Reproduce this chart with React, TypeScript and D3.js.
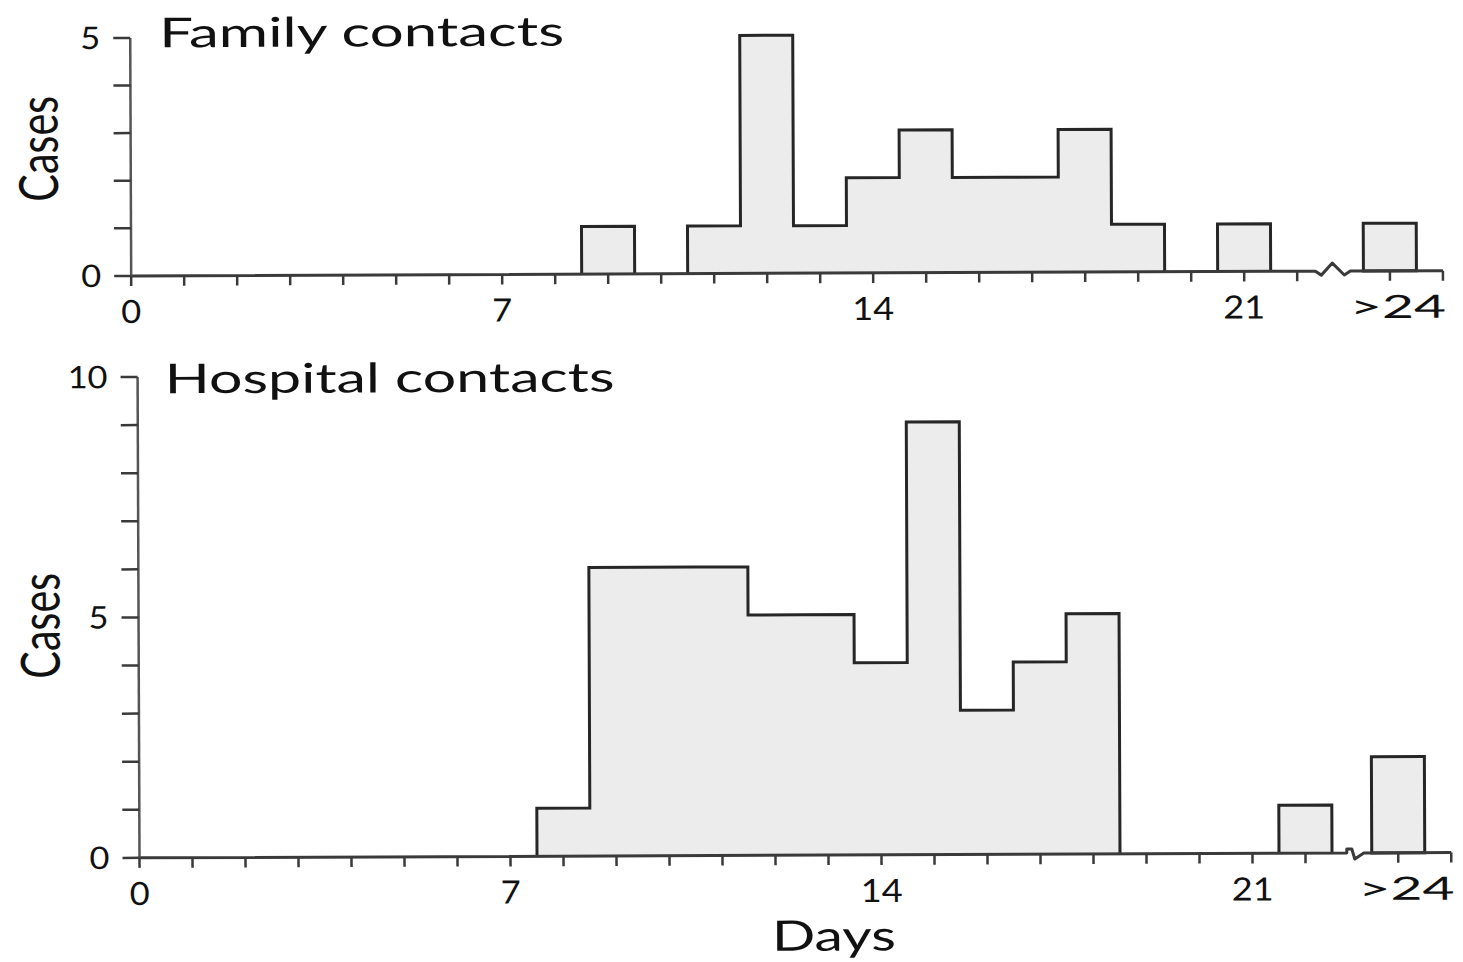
import React from "react";
import * as d3 from "d3";

// ---- data ----
const dayCategories = [
  "0","1","2","3","4","5","6","7","8","9","10","11","12","13","14","15","16","17","18","19","20","21","22",">24",
];
const familyCases = [0,0,0,0,0,0,0,0,0,1,0,1,5,1,2,3,2,2,3,1,0,1,0,1];
const hospitalCases = [0,0,0,0,0,0,0,0,1,6,6,6,5,5,4,9,3,4,5,0,0,0,1,2];
const xTickLabels = ["0","7","14","21",">24"];
const familyYTicks = [0,1,2,3,4,5];
const familyYLabels = [0,5];
const hospitalYTicks = [0,1,2,3,4,5,6,7,8,9,10];
const hospitalYLabels = [0,5,10];

// slot position of each category on the broken axis
const slotOf = (cat: string) => (cat === ">24" ? 23.75 : +cat);
const AXIS_END = 24.75;

const W = 1463;
const H = 962;
const FONT = "Lato, 'Open Sans', sans-serif";
const INK = "#262626";

type PanelProps = {
  title: string;
  titleLen: number;
  values: number[];
  yTicks: number[];
  yLabels: number[];
  yMax: number;
  x0: number;
  yBase: number;
  yTop: number;
  casesY: number;
  titleX: number;
  titleY: number;
  breakAt: number;
  breakKind: "peak" | "z";
};

function Panel(p: PanelProps) {
  const x = d3.scaleLinear().domain([0, AXIS_END]).range([p.x0, p.x0 + AXIS_END * 53]);
  const y = d3.scaleLinear().domain([0, p.yMax]).range([p.yBase, p.yTop]);

  // build step outlines for contiguous non-zero runs (regular days)
  const runs: { start: number; vals: number[] }[] = [];
  dayCategories.forEach((c, i) => {
    if (c === ">24") return;
    const v = p.values[i];
    if (v > 0) {
      const last = runs[runs.length - 1];
      if (last && last.start + last.vals.length === i) last.vals.push(v);
      else runs.push({ start: i, vals: [v] });
    }
  });
  const runPath = (r: { start: number; vals: number[] }) => {
    let d = `M${x(slotOf(dayCategories[r.start]) - 0.5)},${y(0)}`;
    r.vals.forEach((v, k) => {
      const s = slotOf(dayCategories[r.start + k]);
      d += `V${y(v)}H${x(s + 0.5)}`;
    });
    d += `V${y(0)}`;
    return d;
  };

  const overIdx = dayCategories.indexOf(">24");
  const overSlot = slotOf(">24");
  const overVal = p.values[overIdx];

  const minorTicks = [
    ...dayCategories.filter((c) => c !== ">24").map(slotOf),
    overSlot,
    AXIS_END,
  ];

  const b = y(0);
  const bx = x(p.breakAt);
  const zig =
    p.breakKind === "peak"
      ? `H${bx - 20}L${bx - 14},${b + 4}L${bx - 3},${b - 8}L${bx + 9},${b + 4}L${bx + 15},${b}`
      : `H${bx - 8}V${b - 4}H${bx - 3}L${bx},${b + 6}L${bx + 9},${b}`;
  const axisPath = `M${x(0)},${b}` + zig + `H${x(AXIS_END)}`;

  return (
    <g>
      {/* bars */}
      {runs.map((r, i) => (
        <path key={i} d={runPath(r)} fill="#ececec" stroke={INK} strokeWidth={3} />
      ))}
      {overVal > 0 && (
        <rect
          x={x(overSlot - 0.5)}
          y={y(overVal)}
          width={x(overSlot + 0.5) - x(overSlot - 0.5)}
          height={y(0) - y(overVal)}
          fill="#ececec"
          stroke={INK}
          strokeWidth={3}
        />
      )}
      {/* x axis */}
      <path d={axisPath} fill="none" stroke="#3a3a3a" strokeWidth={3} strokeLinejoin="round" />
      {minorTicks.map((s, i) => (
        <line key={i} x1={x(s)} x2={x(s)} y1={b} y2={b + 10} stroke="#3a3a3a" strokeWidth={2.5} />
      ))}
      {xTickLabels.map((t) => (
        <text
          key={t}
          x={x(slotOf(t)) + (t === ">24" ? 8 : 0)}
          y={b + 47}
          textAnchor="middle"
          fontFamily={FONT}
          fontSize={32}
          fill="#111"
          textLength={t === ">24" ? 96 : t.length === 2 ? 42 : 20}
          lengthAdjust="spacingAndGlyphs"
        >
          {t}
        </text>
      ))}
      {/* y axis */}
      <line x1={p.x0} x2={p.x0} y1={y(0)} y2={y(p.yMax)} stroke="#555" strokeWidth={2.5} />
      {p.yTicks.map((t) => (
        <line key={t} x1={p.x0 - 17} x2={p.x0} y1={y(t)} y2={y(t)} stroke="#3a3a3a" strokeWidth={2.5} />
      ))}
      {p.yLabels.map((t) => (
        <text
          key={t}
          x={p.x0 - 30}
          y={y(t) + 11}
          textAnchor="end"
          fontFamily={FONT}
          fontSize={31}
          fill="#111"
          textLength={String(t).length === 2 ? 40 : 20}
          lengthAdjust="spacingAndGlyphs"
        >
          {t}
        </text>
      ))}
      {/* y label */}
      <text
        transform={`translate(59,${p.casesY}) rotate(-90)`}
        textAnchor="middle"
        fontFamily={FONT}
        fontSize={54}
        fill="#111"
        textLength={106}
        lengthAdjust="spacingAndGlyphs"
      >
        Cases
      </text>
      {/* title */}
      <text
        x={p.titleX}
        y={p.titleY}
        fontFamily={FONT}
        fontSize={41}
        fill="#111"
        textLength={p.titleLen}
        lengthAdjust="spacingAndGlyphs"
      >
        {p.title}
      </text>
    </g>
  );
}

export default function App() {
  return (
    <svg
      width={W}
      height={H}
      viewBox={`0 0 ${W} ${H}`}
      style={{ position: "absolute", left: 0, top: 0, background: "#fff" }}
    >
      <rect width={W} height={H} fill="#fff" />
      <g transform="rotate(-0.23 730 480)">
        <Panel
          title="Family contacts"
          titleLen={405}
          values={familyCases}
          yTicks={familyYTicks}
          yLabels={familyYLabels}
          yMax={5}
          x0={132}
          yBase={273.5}
          yTop={35.5}
          casesY={146}
          titleX={161}
          titleY={45}
          breakAt={22.72}
          breakKind="peak"
        />
        <Panel
          title="Hospital contacts"
          titleLen={450}
          values={hospitalCases}
          yTicks={hospitalYTicks}
          yLabels={hospitalYLabels}
          yMax={10}
          x0={138}
          yBase={855.5}
          yTop={374.6}
          casesY={623}
          titleX={165}
          titleY={391}
          breakAt={22.93}
          breakKind="z"
        />
        <text
          x={832}
          y={951}
          textAnchor="middle"
          fontFamily={FONT}
          fontSize={42}
          fill="#111"
          textLength={124}
          lengthAdjust="spacingAndGlyphs"
        >
          Days
        </text>
      </g>
    </svg>
  );
}
